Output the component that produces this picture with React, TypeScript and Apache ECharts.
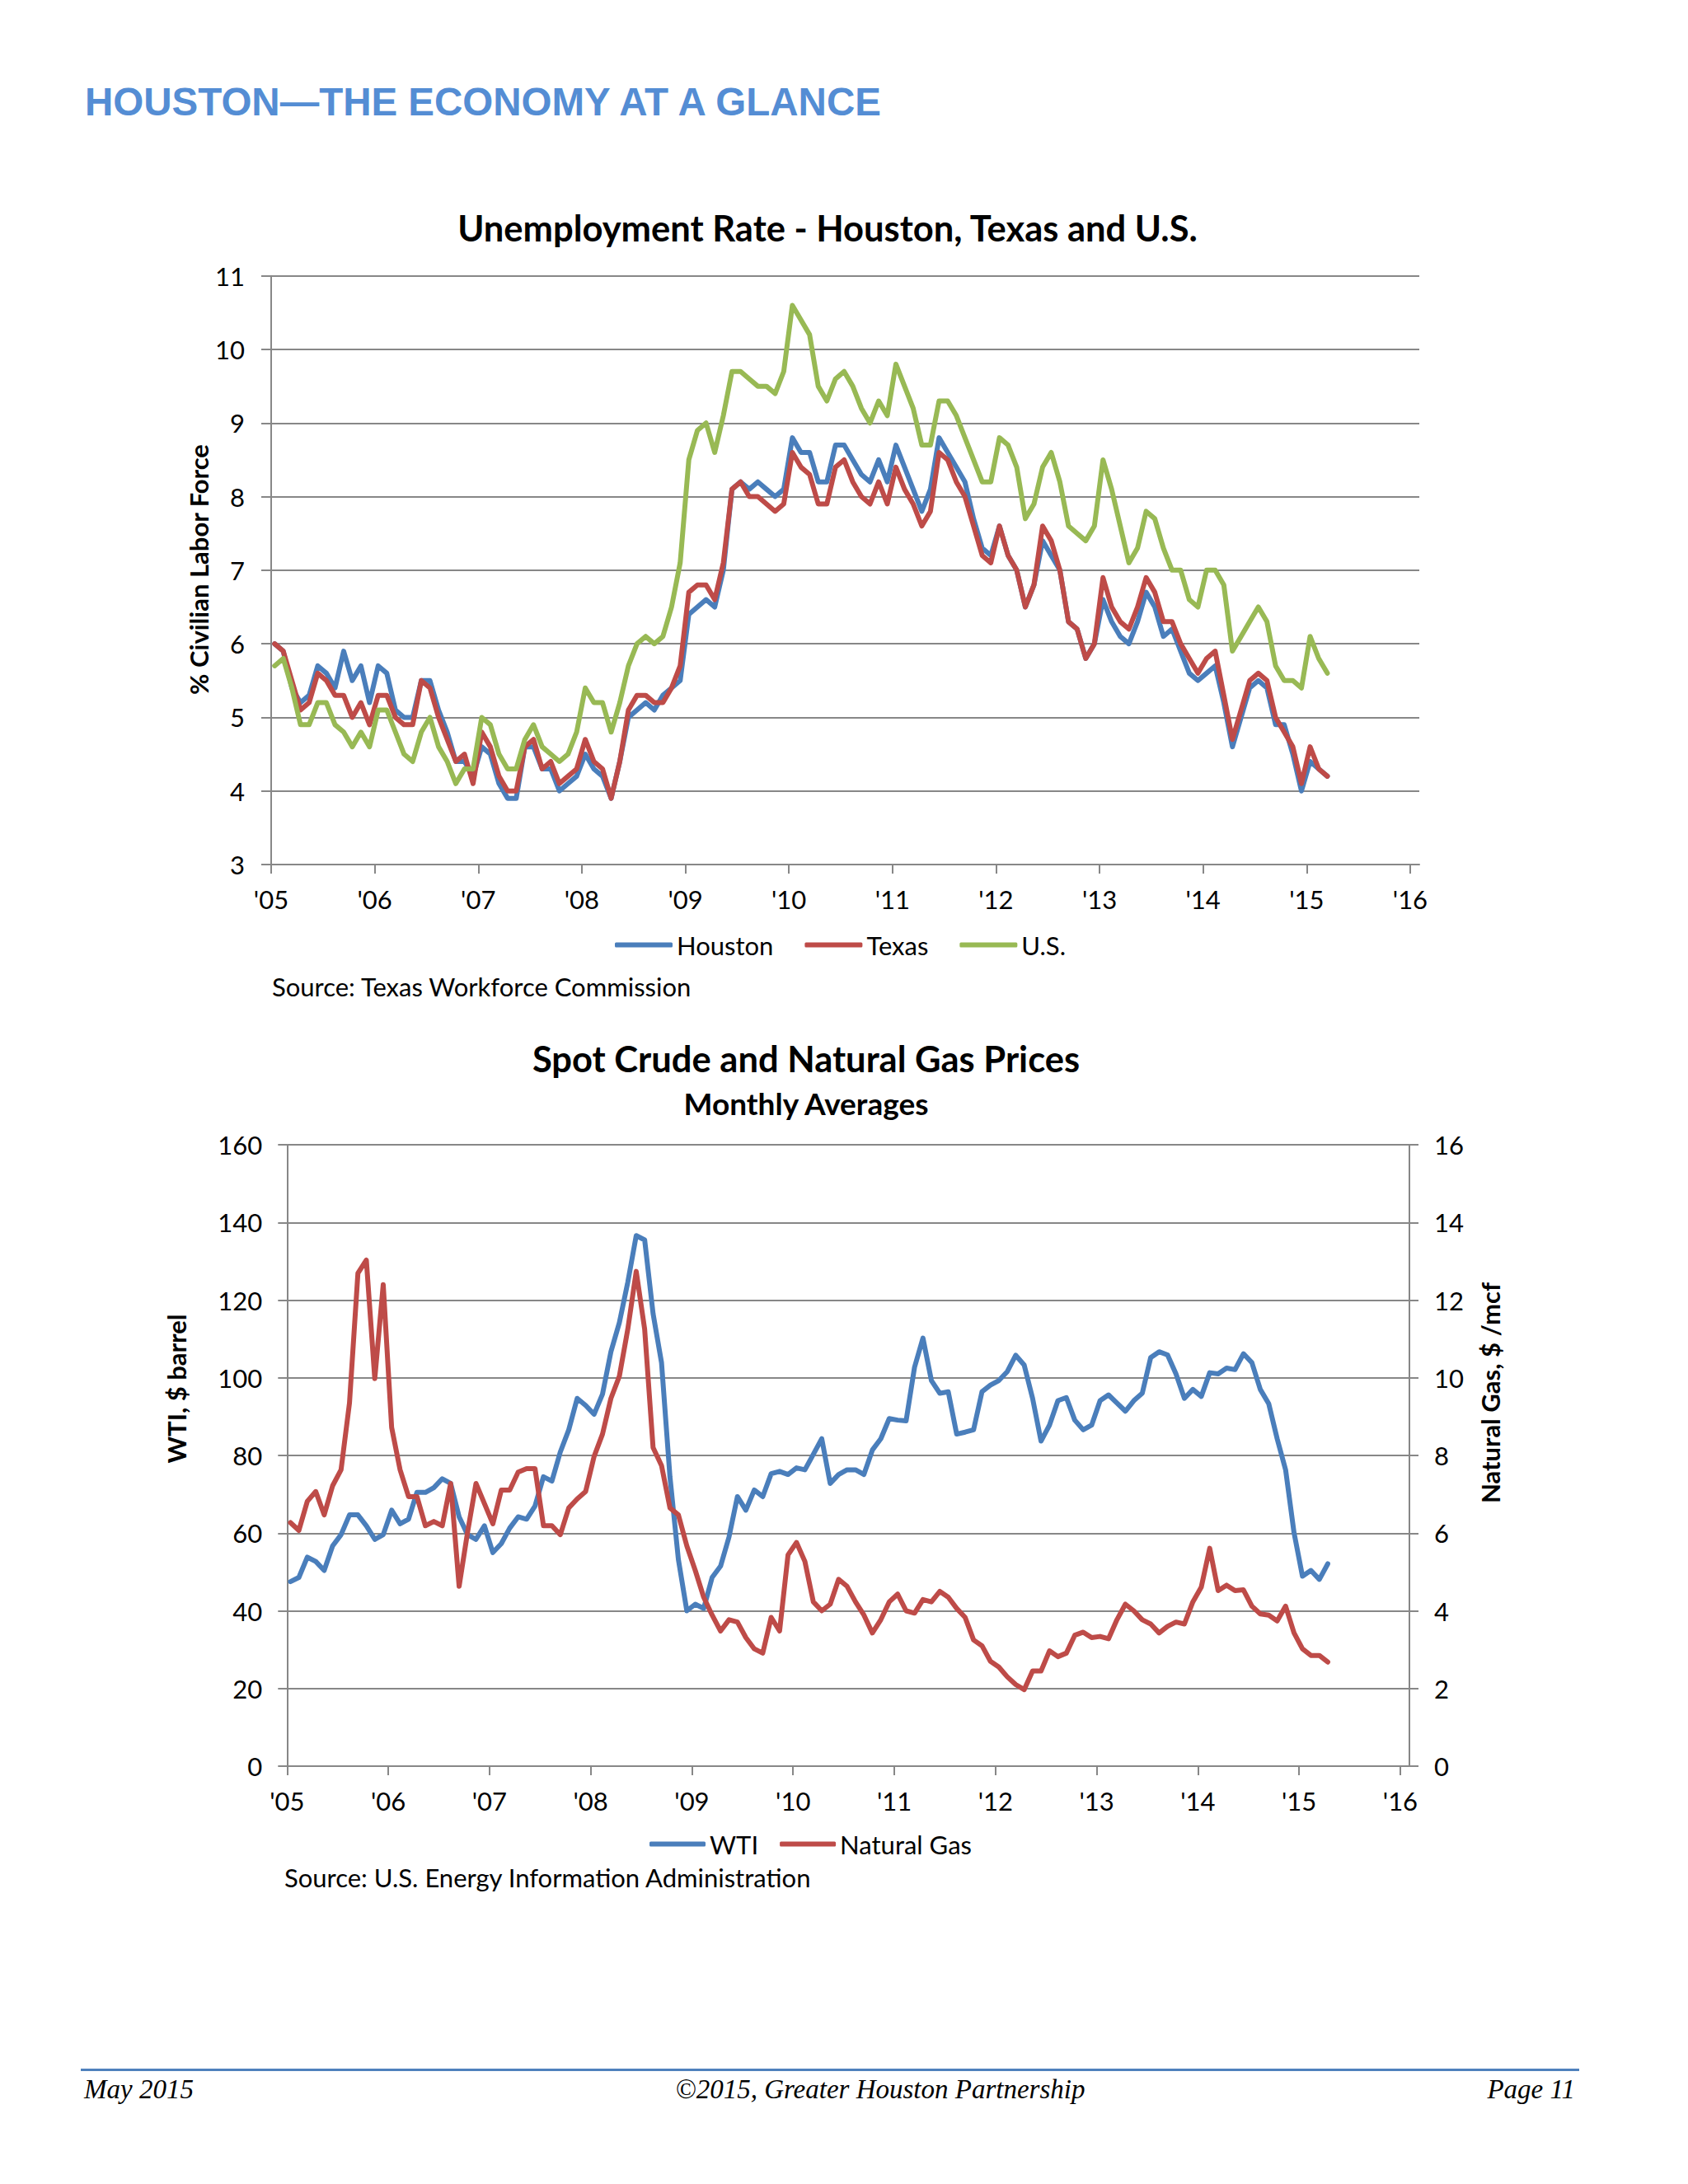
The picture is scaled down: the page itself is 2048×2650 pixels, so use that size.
import React, { useEffect, useRef } from "react";
import * as echarts from "echarts";

// ---------- DATA ----------
// Unemployment rate (%), monthly Jan 2005 – Mar 2015
const houston = [
  6.0, 5.9, 5.4, 5.2, 5.3, 5.7, 5.6, 5.4, 5.9, 5.5, 5.7, 5.2,
  5.7, 5.6, 5.1, 5.0, 5.0, 5.5, 5.5, 5.1, 4.8, 4.4, 4.4, 4.2,
  4.6, 4.5, 4.1, 3.9, 3.9, 4.6, 4.6, 4.3, 4.3, 4.0, 4.1, 4.2,
  4.5, 4.3, 4.2, 3.9, 4.4, 5.0, 5.1, 5.2, 5.1, 5.3, 5.4, 5.5,
  6.4, 6.5, 6.6, 6.5, 7.0, 8.1, 8.2, 8.1, 8.2, 8.1, 8.0, 8.1,
  8.8, 8.6, 8.6, 8.2, 8.2, 8.7, 8.7, 8.5, 8.3, 8.2, 8.5, 8.2,
  8.7, 8.4, 8.1, 7.8, 8.1, 8.8, 8.6, 8.4, 8.2, 7.7, 7.3, 7.2,
  7.6, 7.2, 7.0, 6.5, 6.8, 7.4, 7.2, 7.0, 6.3, 6.2, 5.8, 6.0,
  6.6, 6.3, 6.1, 6.0, 6.3, 6.7, 6.5, 6.1, 6.2, 5.9, 5.6, 5.5,
  5.6, 5.7, 5.2, 4.6, 5.0, 5.4, 5.5, 5.4, 4.9, 4.9, 4.5, 4.0,
  4.4, 4.3, 4.2,
];
const texas = [
  6.0, 5.9, 5.5, 5.1, 5.2, 5.6, 5.5, 5.3, 5.3, 5.0, 5.2, 4.9,
  5.3, 5.3, 5.0, 4.9, 4.9, 5.5, 5.4, 5.0, 4.7, 4.4, 4.5, 4.1,
  4.8, 4.6, 4.2, 4.0, 4.0, 4.6, 4.7, 4.3, 4.4, 4.1, 4.2, 4.3,
  4.7, 4.4, 4.3, 3.9, 4.4, 5.1, 5.3, 5.3, 5.2, 5.2, 5.4, 5.7,
  6.7, 6.8, 6.8, 6.6, 7.1, 8.1, 8.2, 8.0, 8.0, 7.9, 7.8, 7.9,
  8.6, 8.4, 8.3, 7.9, 7.9, 8.4, 8.5, 8.2, 8.0, 7.9, 8.2, 7.9,
  8.4, 8.1, 7.9, 7.6, 7.8, 8.6, 8.5, 8.2, 8.0, 7.6, 7.2, 7.1,
  7.6, 7.2, 7.0, 6.5, 6.8, 7.6, 7.4, 7.0, 6.3, 6.2, 5.8, 6.0,
  6.9, 6.5, 6.3, 6.2, 6.5, 6.9, 6.7, 6.3, 6.3, 6.0, 5.8, 5.6,
  5.8, 5.9, 5.3, 4.7, 5.1, 5.5, 5.6, 5.5, 5.0, 4.8, 4.6, 4.1,
  4.6, 4.3, 4.2,
];
const us = [
  5.7, 5.8, 5.4, 4.9, 4.9, 5.2, 5.2, 4.9, 4.8, 4.6, 4.8, 4.6,
  5.1, 5.1, 4.8, 4.5, 4.4, 4.8, 5.0, 4.6, 4.4, 4.1, 4.3, 4.3,
  5.0, 4.9, 4.5, 4.3, 4.3, 4.7, 4.9, 4.6, 4.5, 4.4, 4.5, 4.8,
  5.4, 5.2, 5.2, 4.8, 5.2, 5.7, 6.0, 6.1, 6.0, 6.1, 6.5, 7.1,
  8.5, 8.9, 9.0, 8.6, 9.1, 9.7, 9.7, 9.6, 9.5, 9.5, 9.4, 9.7,
  10.6, 10.4, 10.2, 9.5, 9.3, 9.6, 9.7, 9.5, 9.2, 9.0, 9.3, 9.1,
  9.8, 9.5, 9.2, 8.7, 8.7, 9.3, 9.3, 9.1, 8.8, 8.5, 8.2, 8.2,
  8.8, 8.7, 8.4, 7.7, 7.9, 8.4, 8.6, 8.2, 7.6, 7.5, 7.4, 7.6,
  8.5, 8.1, 7.6, 7.1, 7.3, 7.8, 7.7, 7.3, 7.0, 7.0, 6.6, 6.5,
  7.0, 7.0, 6.8, 5.9, 6.1, 6.3, 6.5, 6.3, 5.7, 5.5, 5.5, 5.4,
  6.1, 5.8, 5.6,
];
// Spot prices, monthly averages Jan 2005 – Apr 2015
const wti = [
  47.5, 48.6, 53.8, 52.7, 50.4, 56.7, 59.6, 64.7, 64.7, 61.9, 58.4, 59.6,
  65.9, 62.4, 63.6, 70.5, 70.5, 71.7, 74.0, 72.8, 64.2, 59.6, 58.4, 61.9,
  55.0, 57.3, 61.3, 64.2, 63.6, 67.0, 74.5, 73.4, 80.9, 86.6, 94.7, 92.9,
  90.6, 95.8, 106.7, 114.2, 124.6, 136.6, 135.5, 116.5, 103.9, 74.5, 53.2, 40.0,
  41.7, 40.6, 48.6, 51.5, 59.0, 69.4, 65.9, 71.1, 69.4, 75.3, 75.9, 75.1,
  76.8, 76.3, 80.3, 84.3, 72.8, 75.1, 76.3, 76.3, 75.1, 81.4, 84.3, 89.5,
  89.1, 88.9, 102.7, 110.2, 99.3, 96.0, 96.4, 85.5, 86.0, 86.6, 96.4, 98.1,
  99.3, 101.6, 105.8, 103.3, 94.7, 83.7, 87.8, 94.1, 94.9, 89.1, 86.6, 87.8,
  94.1, 95.6, 93.5, 91.4, 94.1, 96.0, 105.2, 106.7, 105.9, 101.0, 94.7, 97.0,
  95.2, 101.3, 101.0, 102.5, 102.1, 106.2, 103.9, 97.0, 93.3, 84.3, 76.3, 60.1,
  48.9, 50.4, 48.1, 52.1,
];
const natGas = [
  6.27, 6.07, 6.82, 7.07, 6.47, 7.22, 7.63, 9.35, 12.69, 13.03, 9.98, 12.4,
  8.72, 7.63, 6.94, 6.94, 6.19, 6.3, 6.19, 7.28, 4.63, 6.02, 7.28, 6.76,
  6.24, 7.11, 7.11, 7.57, 7.66, 7.66, 6.19, 6.19, 5.96, 6.65, 6.88, 7.07,
  7.97, 8.55, 9.47, 10.04, 11.25, 12.74, 11.25, 8.2, 7.74, 6.65, 6.47, 5.67,
  5.04, 4.35, 3.89, 3.48, 3.77, 3.71, 3.31, 3.02, 2.91, 3.83, 3.48, 5.44,
  5.76, 5.27, 4.23, 4.0, 4.17, 4.81, 4.63, 4.23, 3.89, 3.43, 3.77, 4.23,
  4.43, 4.0, 3.94, 4.29, 4.23, 4.5, 4.35, 4.06, 3.83, 3.25, 3.1, 2.7,
  2.55, 2.3, 2.1, 1.97, 2.45, 2.45, 2.97, 2.82, 2.91, 3.37, 3.45, 3.31,
  3.34, 3.28, 3.77, 4.17, 4.0, 3.77, 3.66, 3.43, 3.6, 3.71, 3.66, 4.23,
  4.61, 5.61, 4.52, 4.66, 4.52, 4.54, 4.12, 3.92, 3.89, 3.74, 4.12, 3.43,
  3.02, 2.85, 2.85, 2.68,
];
const yearTicks = [2005, 2006, 2007, 2008, 2009, 2010, 2011, 2012, 2013, 2014, 2015, 2016];
const START_YEAR = 2005;

// ---------- HELPERS ----------
const monthly = (values: number[]) =>
  values.map((v, i) => [START_YEAR + (i + 0.4) / 12, v]);

const FONT = "Lato";
const AXIS = "#878787";
const C_BLUE = "#4A7EBB";
const C_RED = "#BE4B48";
const C_GREEN = "#98B954";

const yearLabel = (v: number) => "'" + String(Math.round(v)).slice(2);

function xAxisCfg(gridIndex: number, max: number) {
  return {
    type: "value",
    gridIndex,
    min: START_YEAR,
    max,
    axisLine: { show: true, onZero: false, lineStyle: { color: AXIS, width: 2 } },
    axisTick: { show: true, length: 11, customValues: yearTicks, lineStyle: { color: AXIS, width: 2 } },
    axisLabel: {
      customValues: yearTicks,
      formatter: yearLabel,
      fontFamily: FONT,
      fontSize: 31,
      color: "#000",
      margin: 26,
    },
    splitLine: { show: false },
  };
}

function lineSeries(name: string, values: number[], color: string, xi: number, yi: number) {
  return {
    name,
    type: "line",
    xAxisIndex: xi,
    yAxisIndex: yi,
    data: monthly(values),
    symbol: "none",
    showSymbol: false,
    smooth: false,
    lineStyle: { color, width: 6, join: "round", cap: "round" },
    itemStyle: { color },
  };
}

function txt(text: string, x: number, y: number, font: string, align = "left", rotation = 0, fill = "#000") {
  return {
    type: "text",
    x,
    y,
    rotation,
    silent: true,
    style: {
      text,
      font,
      fill,
      align,
      textAlign: align,
      verticalAlign: "middle",
      textVerticalAlign: "middle",
    },
  };
}

export default function App() {
  const ref = useRef<HTMLDivElement>(null);

  useEffect(() => {
    if (!ref.current) return;
    const chart = echarts.init(ref.current, undefined, { renderer: "svg" });

    const option: any = {
      animation: false,
      backgroundColor: "#ffffff",
      textStyle: { fontFamily: FONT },
      grid: [
        { left: 329, top: 334.7, width: 1393, height: 714.3 },
        { left: 348.3, top: 1389, width: 1361.7, height: 754 },
      ],
      xAxis: [xAxisCfg(0, 2016.088), xAxisCfg(1, 2016.09)],
      yAxis: [
        {
          type: "value",
          gridIndex: 0,
          min: 3,
          max: 11,
          interval: 1,
          axisLine: { show: true, lineStyle: { color: AXIS, width: 2 } },
          axisTick: { show: true, length: 12, lineStyle: { color: AXIS, width: 2 } },
          axisLabel: { fontFamily: FONT, fontSize: 31, color: "#000", margin: 32 },
          splitLine: { show: true, lineStyle: { color: AXIS, width: 2 } },
        },
        {
          type: "value",
          gridIndex: 1,
          min: 0,
          max: 160,
          interval: 20,
          axisLine: { show: true, lineStyle: { color: AXIS, width: 2 } },
          axisTick: { show: true, length: 11, lineStyle: { color: AXIS, width: 2 } },
          axisLabel: { fontFamily: FONT, fontSize: 31, color: "#000", margin: 30 },
          splitLine: { show: true, lineStyle: { color: AXIS, width: 2 } },
        },
        {
          type: "value",
          gridIndex: 1,
          position: "right",
          min: 0,
          max: 16,
          interval: 2,
          axisLine: { show: true, lineStyle: { color: AXIS, width: 2 } },
          axisTick: { show: true, length: 11, lineStyle: { color: AXIS, width: 2 } },
          axisLabel: { fontFamily: FONT, fontSize: 31, color: "#000", margin: 30 },
          splitLine: { show: false },
        },
      ],
      legend: [
        {
          data: ["Houston", "Texas", "U.S."],
          left: 741,
          top: 1126,
          icon: "roundRect",
          itemWidth: 70,
          itemHeight: 6,
          itemGap: 38,
          textStyle: { fontFamily: FONT, fontSize: 31, color: "#000" },
        },
        {
          data: ["WTI", "Natural Gas"],
          left: 783,
          top: 2217,
          icon: "roundRect",
          itemWidth: 68,
          itemHeight: 6,
          itemGap: 26,
          textStyle: { fontFamily: FONT, fontSize: 31, color: "#000" },
        },
      ],
      series: [
        lineSeries("Houston", houston, C_BLUE, 0, 0),
        lineSeries("Texas", texas, C_RED, 0, 0),
        lineSeries("U.S.", us, C_GREEN, 0, 0),
        lineSeries("WTI", wti, C_BLUE, 1, 1),
        lineSeries("Natural Gas", natGas, C_RED, 1, 2),
      ],
      graphic: [
        txt("HOUSTON\u2014THE ECONOMY AT A GLANCE", 103, 123, 'bold 47.5px "Liberation Sans"', "left", 0, "#548DD4"),
        txt("Unemployment Rate - Houston, Texas and U.S.", 1004, 276, `bold 43.5px ${FONT}`, "center"),
        txt("% Civilian Labor Force", 241, 691, `bold 31px ${FONT}`, "center", Math.PI / 2),
        txt("Source: Texas Workforce Commission", 330, 1197, `31px ${FONT}`, "left"),
        txt("Spot Crude and Natural Gas Prices", 978, 1284, `bold 43.5px ${FONT}`, "center"),
        txt("Monthly Averages", 978, 1338, `bold 37px ${FONT}`, "center"),
        txt("WTI, $ barrel", 214, 1685, `bold 31px ${FONT}`, "center", Math.PI / 2),
        txt("Natural Gas, $ /mcf", 1808, 1690, `bold 31px ${FONT}`, "center", Math.PI / 2),
        txt("Source: U.S. Energy Information Administration", 345, 2278, `31px ${FONT}`, "left"),
        {
          type: "line",
          silent: true,
          shape: { x1: 98, y1: 2511.5, x2: 1916, y2: 2511.5 },
          style: { stroke: "#4F81BD", lineWidth: 3 },
        },
        txt("May 2015", 102, 2535, 'italic 33px "Liberation Serif"', "left"),
        txt("\u00A92015, Greater Houston Partnership", 1068, 2535, 'italic 33px "Liberation Serif"', "center"),
        txt("Page 11", 1911, 2535, 'italic 33px "Liberation Serif"', "right"),
      ],
    };

    chart.setOption(option);
    return () => chart.dispose();
  }, []);

  return (
    <div
      ref={ref}
      style={{ position: "absolute", left: 0, top: 0, width: 2048, height: 2650 }}
    />
  );
}
